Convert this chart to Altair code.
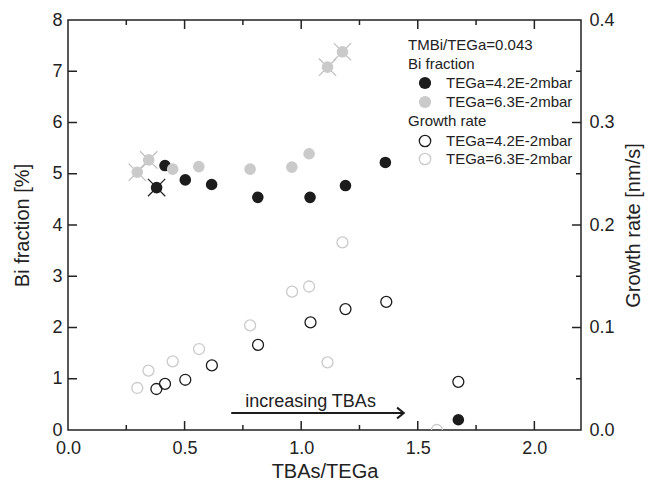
import altair as alt
import pandas as pd

# ---- data ----
bi_black_x = [0.380, 0.416, 0.503, 0.616, 0.814, 1.038, 1.190, 1.361, 1.674]
bi_black_y = [4.73, 5.16, 4.88, 4.79, 4.54, 4.54, 4.77, 5.22, 0.20]

bi_gray_x = [0.297, 0.346, 0.449, 0.561, 0.781, 0.960, 1.034, 1.113, 1.177]
bi_gray_y = [5.03, 5.27, 5.09, 5.14, 5.09, 5.13, 5.39, 7.08, 7.38]

gr_black_x = [0.379, 0.416, 0.503, 0.617, 0.815, 1.040, 1.190, 1.365, 1.674]
gr_black_y = [0.040, 0.045, 0.049, 0.063, 0.083, 0.105, 0.118, 0.125, 0.047]

gr_gray_x = [0.297, 0.345, 0.449, 0.562, 0.781, 0.961, 1.034, 1.113, 1.177, 1.582]
gr_gray_y = [0.041, 0.058, 0.067, 0.079, 0.102, 0.135, 0.140, 0.066, 0.183, 0.0]

# points marked with a cross
cross_black_x = [0.380]
cross_black_y = [4.73]
cross_gray_x = [0.297, 0.346, 1.113, 1.177]
cross_gray_y = [5.03, 5.27, 7.08, 7.38]

x_labels = [0.0, 0.5, 1.0, 1.5, 2.0]
x_major = [0.5, 1.0, 1.5, 2.0]
x_minor = [0.25, 0.75, 1.25, 1.75]
y_labels = [0, 1, 2, 3, 4, 5, 6, 7, 8]
y_left_ticks = [1, 2, 3, 4, 5, 6, 7]
gr_labels = [0.0, 0.1, 0.2, 0.3, 0.4]
gr_major = [0.1, 0.2, 0.3]
gr_minor = [0.05, 0.15, 0.25, 0.35]

legend_header = "TMBi/TEGa=0.043"
legend_groups = ["Bi fraction", "Growth rate"]
legend_series = ["TEGa=4.2E-2mbar", "TEGa=6.3E-2mbar"]
arrow_label = "increasing TBAs"
arrow_x = [0.70, 1.44]

GR_TO_BI = 20.0  # right axis 0..0.4 maps onto left axis 0..8

FONT = "Liberation Sans"
BLACK = "#1c1c1c"
GRAY = "#cacaca"
W, H = 513, 410

xs = alt.Scale(domain=[0, 2.2], nice=False, zero=False)
ys = alt.Scale(domain=[0, 8], nice=False, zero=False)


def df(x, y):
    return pd.DataFrame({"x": x, "y": y})


def gr_df(x, y):
    return pd.DataFrame({"x": x, "gr": y})


X = alt.X("x:Q", scale=xs, axis=None)
Y = alt.Y("y:Q", scale=ys, axis=None)

AX = dict(ticks=False, domain=False, grid=False, labelFlush=False, labelOverlap=False,
          labelFontSize=18, titleFontSize=20,
          labelFont=FONT, titleFont=FONT, titleFontWeight="normal",
          labelColor="#222", titleColor="#222")

# ---- axes (labels/titles only, frame from view stroke) ----
main_axes = alt.Chart(df([0], [0])).mark_point(opacity=0).encode(
    x=alt.X("x:Q", scale=xs, title="TBAs/TEGa",
            axis=alt.Axis(values=x_labels, format=".1f", labelPadding=9,
                          titlePadding=4, **AX)),
    y=alt.Y("y:Q", scale=ys, title="Bi fraction [%]",
            axis=alt.Axis(values=y_labels, format="d", labelPadding=6,
                          titlePadding=19, **AX)),
)

right_axis = alt.Chart(df([0], [0])).mark_point(opacity=0).encode(
    x=X,
    y=alt.Y("y:Q", scale=ys, title="Growth rate [nm/s]",
            axis=alt.Axis(orient="right", values=[v * GR_TO_BI for v in gr_labels],
                          labelExpr=f"format(datum.value / {GR_TO_BI}, '.1f')",
                          labelPadding=8, titlePadding=9, titleAngle=270,
                          titleBaseline="top", **AX)),
)

# ---- inward tick marks ----
tick_layers = []


def xticks(vals, length):
    d = pd.DataFrame({"x": vals})
    tick_layers.append(alt.Chart(d).mark_rule(color="#222", strokeWidth=1.5).encode(
        x=X, y=alt.value(H), y2=alt.value(H - length)))
    tick_layers.append(alt.Chart(d).mark_rule(color="#222", strokeWidth=1.5).encode(
        x=X, y=alt.value(0), y2=alt.value(length)))


def lticks(vals, length):
    d = pd.DataFrame({"y": vals})
    tick_layers.append(alt.Chart(d).mark_rule(color="#222", strokeWidth=1.5).encode(
        y=Y, x=alt.value(0), x2=alt.value(length)))


def rticks(vals, length):
    d = pd.DataFrame({"gr": vals})
    tick_layers.append(alt.Chart(d).transform_calculate(
        y=f"datum.gr * {GR_TO_BI}").mark_rule(color="#222", strokeWidth=1.5).encode(
        y=Y, x=alt.value(W), x2=alt.value(W - length)))


xticks(x_major, 9)
xticks(x_minor, 5)
lticks(y_left_ticks, 9)
rticks(gr_major, 9)
rticks(gr_minor, 5)

# ---- data marks ----
XSHAPE = "M-1,-1L1,1M-1,1L1,-1"
cross_b = alt.Chart(df(cross_black_x, cross_black_y)).mark_point(
    shape=XSHAPE, size=300, filled=False, color=BLACK, strokeWidth=1.2,
    opacity=1).encode(x=X, y=Y)
cross_g = alt.Chart(df(cross_gray_x, cross_gray_y)).mark_point(
    shape=XSHAPE, size=300, filled=False, color="#bdbdbd", strokeWidth=1.2,
    opacity=1).encode(x=X, y=Y)

bi_b = alt.Chart(df(bi_black_x, bi_black_y)).mark_circle(
    size=135, color=BLACK, opacity=1).encode(x=X, y=Y)
bi_g = alt.Chart(df(bi_gray_x, bi_gray_y)).mark_circle(
    size=135, color=GRAY, opacity=1).encode(x=X, y=Y)

gr_g = alt.Chart(gr_df(gr_gray_x, gr_gray_y)).transform_calculate(
    y=f"datum.gr * {GR_TO_BI}").mark_point(
    size=120, filled=False, color=GRAY, strokeWidth=1.3, opacity=1, clip=True).encode(x=X, y=Y)
gr_b = alt.Chart(gr_df(gr_black_x, gr_black_y)).transform_calculate(
    y=f"datum.gr * {GR_TO_BI}").mark_point(
    size=120, filled=False, color=BLACK, strokeWidth=1.3, opacity=1, clip=True).encode(x=X, y=Y)

# ---- arrow annotation ----
arrow_df = pd.DataFrame({"x": [arrow_x[0]], "x2": [arrow_x[1]]})
arrow_line = alt.Chart(arrow_df).mark_rule(color=BLACK, strokeWidth=2).encode(
    x=X, x2="x2:Q", y=alt.value(393))
head = alt.Chart(pd.DataFrame({"x": [arrow_x[1]]})).mark_point(
    shape="M-1,-0.8L0,0L-1,0.8", filled=False, color=BLACK, strokeWidth=2,
    size=180, opacity=1).encode(x=X, y=alt.value(393))
arrow_text = alt.Chart(pd.DataFrame({"x": [(arrow_x[0] + arrow_x[1]) / 2 - 0.03],
                                     "t": [arrow_label]})).mark_text(
    font=FONT, fontSize=18, color="#222", baseline="middle").encode(
    x=X, y=alt.value(382), text="t:N")

# ---- manual legend ----
TX = 340
MX = 357
EX = 378
legend_layers = [
    alt.Chart(pd.DataFrame({"t": [legend_header]})).mark_text(
        font=FONT, fontSize=15, align="left", baseline="middle", color="#222").encode(
        x=alt.value(TX), y=alt.value(25), text="t:N"),
    alt.Chart(pd.DataFrame({"t": [legend_groups[0]]})).mark_text(
        font=FONT, fontSize=15, align="left", baseline="middle", color="#222").encode(
        x=alt.value(TX), y=alt.value(44), text="t:N"),
    alt.Chart(pd.DataFrame({"t": [legend_groups[1]]})).mark_text(
        font=FONT, fontSize=15, align="left", baseline="middle", color="#222").encode(
        x=alt.value(TX), y=alt.value(101), text="t:N"),
]
entries = [
    (63, "circle", BLACK, legend_series[0]),
    (82, "circle", GRAY, legend_series[1]),
    (121, "open", BLACK, legend_series[0]),
    (139, "open", GRAY, legend_series[1]),
]
for yy, kind, col, label in entries:
    d = pd.DataFrame({"t": [label]})
    if kind == "circle":
        m = alt.Chart(d).mark_circle(size=150, color=col, opacity=1).encode(
            x=alt.value(MX), y=alt.value(yy))
    else:
        m = alt.Chart(d).mark_point(size=130, filled=False, color=col,
                                    strokeWidth=1.3, opacity=1).encode(
            x=alt.value(MX), y=alt.value(yy))
    t = alt.Chart(d).mark_text(font=FONT, fontSize=15, align="left",
                               baseline="middle", color="#222").encode(
        x=alt.value(EX), y=alt.value(yy), text="t:N")
    legend_layers += [m, t]

chart = alt.layer(
    main_axes, right_axis, *tick_layers,
    cross_g, cross_b, bi_b, bi_g, gr_g, gr_b,
    arrow_line, head, arrow_text, *legend_layers
).resolve_axis(x="independent", y="independent").properties(
    width=W, height=H,
    autosize=alt.AutoSizeParams(type="none"),
    padding={"left": 60, "top": 12, "right": 65, "bottom": 50},
    background="white",
).configure_view(stroke="#222", strokeWidth=1.5)

chart.save("out.html", embed_options={"renderer": "svg", "actions": False})
